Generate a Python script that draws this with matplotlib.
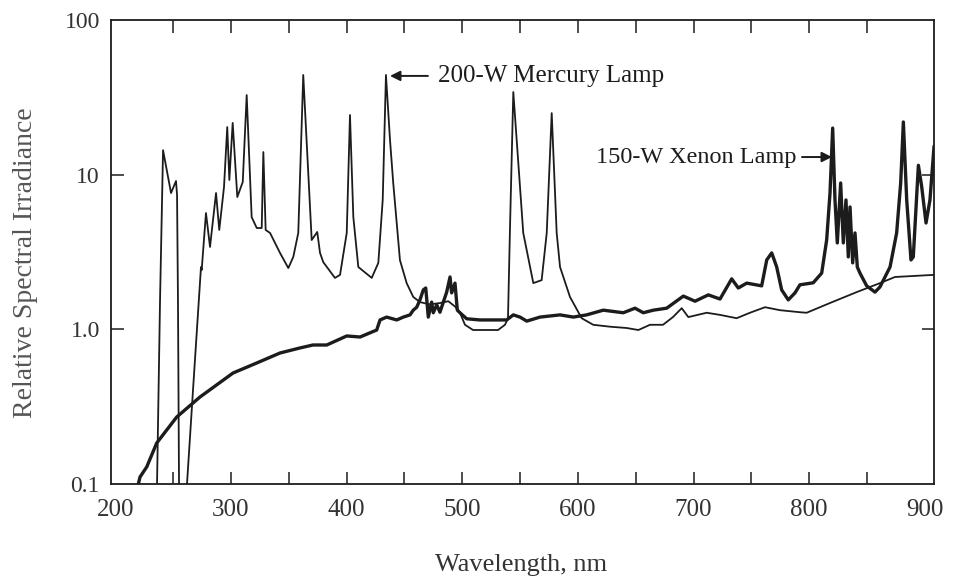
import matplotlib.pyplot as plt

# 200-W mercury lamp (thin line)
hg_nm = [236.2, 238.8, 241.4, 248.3, 252.6, 253.5, 254.3, 255.2, 256.5, 261.0, 262.1,
         267.3, 273.3, 274.2, 274.8, 278.5, 282.0, 287.2, 290.0, 294.1, 296.9, 298.7,
         301.6, 305.6, 310.3, 313.7, 318.0, 322.4, 326.7, 328.1, 330.1, 333.9, 342.5,
         349.7, 354.0, 358.3, 362.6, 369.9, 374.7, 377.1, 379.9, 390.0, 394.4, 400.2,
         403.0, 405.9, 410.2, 421.8, 427.5, 431.3, 434.1, 437.6, 440.4, 446.2, 452.0,
         457.7, 463.5, 472.0, 481.0, 488.0, 494.0, 498.1, 502.4, 509.4, 531.0, 537.0,
         539.6, 541.3, 544.2, 552.8, 561.5, 568.7, 573.1, 577.4, 581.7, 584.6, 593.2,
         603.3, 613.3, 627.8, 642.2, 652.3, 662.4, 673.6, 682.2, 689.8, 695.5, 711.4,
         722.9, 737.3, 748.8, 761.8, 774.7, 792.0, 797.8, 818.0, 841.0, 861.2, 874.2,
         907.9]
hg_val = [0.1, 1.55, 14.4, 7.61, 9.1, 7.39, 1.55, 0.1, 0.01, 0.01, 0.1,
          0.405, 1.99, 2.53, 2.42, 5.65, 3.41, 7.61, 4.39, 8.32, 20.3, 9.24,
          21.6, 7.17, 8.97, 32.7, 5.32, 4.52, 4.52, 14.0, 4.39, 4.20, 3.12,
          2.49, 2.94, 4.20, 44.1, 3.78, 4.26, 3.12, 2.72, 2.15, 2.25, 4.20,
          24.3, 5.32, 2.53, 2.15, 2.69, 6.86, 44.1, 16.8, 8.83, 2.8, 1.99,
          1.62, 1.50, 1.45, 1.48, 1.52, 1.40, 1.28, 1.07, 0.99, 0.99, 1.07,
          1.18, 4.4, 34.2, 4.2, 1.99, 2.08, 4.2, 25.0, 4.2, 2.53, 1.62,
          1.18, 1.07, 1.04, 1.02, 0.99, 1.07, 1.07, 1.20, 1.37, 1.20, 1.28,
          1.24, 1.18, 1.28, 1.39, 1.33, 1.29, 1.28, 1.48, 1.74, 1.99, 2.18,
          2.25]

# 150-W xenon lamp (thick line)
xe_nm = [220.0, 221.5, 227.3, 235.9, 253.2, 273.3, 301.9, 322.4, 342.5, 359.8, 371.0,
         382.9, 400.2, 411.7, 426.1, 429.0, 434.7, 443.4, 449.1, 454.9, 457.7, 460.7,
         463.5, 466.4, 468.5, 470.7, 473.6, 475.0, 478.0, 480.8, 483.7, 486.6, 489.5,
         490.9, 493.8, 495.8, 498.1, 503.9, 515.4, 538.5, 544.2, 550.0, 555.8, 567.3,
         584.6, 596.1, 607.6, 622.0, 639.3, 649.4, 656.6, 665.2, 676.8, 691.2, 701.3,
         712.8, 722.9, 733.0, 738.7, 746.0, 758.9, 763.3, 767.6, 771.9, 776.2, 781.9,
         787.7, 792.0, 803.5, 810.8, 815.1, 818.0, 820.3, 822.3, 824.3, 827.2, 829.5,
         831.8, 833.8, 835.3, 837.6, 839.6, 841.6, 843.9, 849.7, 856.9, 861.2, 869.9,
         875.6, 879.1, 881.4, 884.3, 888.0, 890.0, 894.4, 897.3, 901.0, 904.4, 907.9]
xe_val = [0.1, 0.111, 0.129, 0.184, 0.271, 0.365, 0.522, 0.606, 0.703, 0.758, 0.792,
          0.792, 0.906, 0.892, 0.99, 1.15, 1.20, 1.15, 1.20, 1.24, 1.33, 1.39,
          1.55, 1.80, 1.85, 1.20, 1.50, 1.28, 1.44, 1.29, 1.50, 1.74, 2.18,
          1.72, 1.99, 1.33, 1.28, 1.17, 1.15, 1.15, 1.24, 1.20, 1.13, 1.20,
          1.24, 1.20, 1.24, 1.33, 1.28, 1.37, 1.28, 1.33, 1.37, 1.64, 1.52,
          1.67, 1.57, 2.12, 1.85, 1.99, 1.91, 2.81, 3.12, 2.53, 1.80, 1.55,
          1.72, 1.94, 2.0, 2.31, 3.78, 7.61, 20.0, 6.86, 3.62, 8.83, 3.62,
          6.86, 2.94, 6.18, 2.69, 4.2, 2.53, 2.31, 1.91, 1.74, 1.88, 2.53,
          4.2, 8.83, 21.9, 6.86, 2.81, 2.94, 11.5, 8.32, 4.87, 6.86, 15.1]

x_ticks = [200, 250, 300, 350, 400, 450, 500, 550, 600, 650, 700, 750, 800, 850, 900]
x_labels = ['200', '', '300', '', '400', '', '500', '', '600', '', '700', '', '800', '', '900']
y_ticks = [0.1, 1, 10, 100]
y_labels = ['0.1', '1.0', '10', '100']

ink = '#1c1c1c'
grey = '#333333'
serif = ['Liberation Serif', 'DejaVu Serif']

fig = plt.figure(figsize=(9.6, 5.79), dpi=100)
ax = fig.add_axes([111 / 960, 1 - 484 / 579, (934 - 111) / 960, (484 - 20) / 579])

ax.plot(hg_nm, hg_val, color=ink, lw=1.3, solid_joinstyle='round')
ax.plot(xe_nm, xe_val, color=ink, lw=2.4, solid_joinstyle='round')

ax.set_yscale('log')
ax.set_xlim(196.4, 907.9)
ax.set_ylim(0.1, 100)

ax.set_xticks(x_ticks)
ax.set_xticklabels(x_labels, fontfamily=serif, fontsize=18, color=grey)
ax.set_yticks(y_ticks)
ax.set_yticklabels(y_labels, fontfamily=serif, fontsize=17, color=grey)
ax.minorticks_off()
ax.tick_params(direction='in', length=9, width=1.1, color=ink, top=True, right=True)
ax.tick_params(axis='x', pad=11)
ax.tick_params(axis='y', pad=8)
for t, loc in zip(ax.xaxis.get_major_ticks(), x_ticks):
    if loc in (200, 900):
        t.tick1line.set_visible(False)
        t.tick2line.set_visible(False)
for t, loc in zip(ax.yaxis.get_major_ticks(), y_ticks):
    if loc in (0.1, 100):
        t.tick1line.set_visible(False)
        t.tick2line.set_visible(False)
for s in ax.spines.values():
    s.set_linewidth(1.3)
    s.set_color(ink)

fig.text(521 / 960, 1 - 565 / 579, 'Wavelength, nm', fontfamily=serif, fontsize=19,
         color=grey, ha='center', va='center')
fig.text(26 / 960, 1 - 263 / 579, 'Relative Spectral Irradiance', fontfamily=serif,
         fontsize=20, color='#555555', ha='center', va='center', rotation=90)

arrow = dict(arrowstyle='-|>', color=ink, lw=1.4, mutation_scale=15, shrinkA=0, shrinkB=0)
ax.annotate('', xy=(437.6, 43.5), xytext=(470.4, 43.5), arrowprops=arrow)
ax.text(479.1, 43.5, '200-W Mercury Lamp', fontfamily=serif, fontsize=18, color=ink,
        va='center', ha='left')
ax.annotate('', xy=(819.7, 13.0), xytext=(793.8, 13.0), arrowprops=arrow)
ax.text(788.8, 13.0, '150-W Xenon Lamp', fontfamily=serif, fontsize=17.5, color=ink,
        va='center', ha='right')

fig.savefig('out.png', dpi=100)
